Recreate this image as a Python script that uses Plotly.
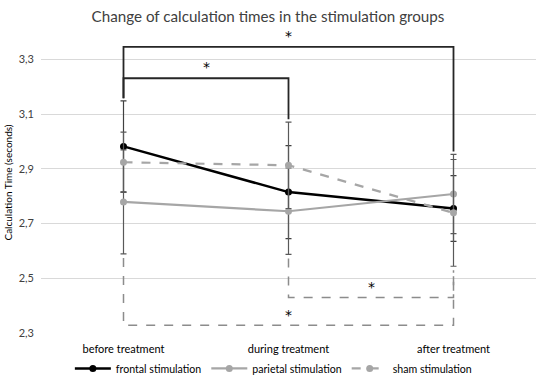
import plotly.graph_objects as go

categories = ["before treatment", "during treatment", "after treatment"]
y_ticks = [2.3, 2.5, 2.7, 2.9, 3.1, 3.3]

frontal = [2.982, 2.815, 2.755]
frontal_err = [0.166, 0.17, 0.12]
parietal = [2.779, 2.745, 2.808]
parietal_err = [0.19, 0.158, 0.145]
sham = [2.924, 2.913, 2.739]
sham_err = [0.11, 0.158, 0.195]

# significance brackets: (from index, to index, level)
solid_brackets = [(0, 2, 3.346), (0, 1, 3.231)]
dashed_brackets = [(0, 2, 2.328), (1, 2, 2.43)]

x = list(range(len(categories)))
FONT = "Lato"

fig = go.Figure()

def add_series(name, vals, err, color, width, dash, msize, ecolor):
    fig.add_trace(go.Scatter(
        x=x, y=vals, name=name, mode="lines+markers",
        line=dict(color=color, width=width, dash=dash),
        marker=dict(color=color, size=msize),
        error_y=dict(type="data", array=err, visible=True, color=ecolor,
                     thickness=1.2, width=3),
    ))

add_series("frontal stimulation", frontal, frontal_err, "#000000", 2.5, "solid", 7, "#404040")
add_series("parietal stimulation", parietal, parietal_err, "#a6a6a6", 2.2, "solid", 7, "#595959")
add_series("sham stimulation", sham, sham_err, "#a6a6a6", 2.2, "dash", 7, "#595959")

series = [(frontal, frontal_err), (parietal, parietal_err), (sham, sham_err)]
tops = [max(v[i] + e[i] for v, e in series) for i in x]
bottoms = [min(v[i] - e[i] for v, e in series) for i in x]

shapes = []
annotations = []
for a, b, lvl in solid_brackets:
    path = f"M {a} {tops[a] + 0.01} L {a} {lvl} L {b} {lvl} L {b} {tops[b] + 0.01}"
    shapes.append(dict(type="path", path=path, xref="x", yref="y",
                       line=dict(color="#262626", width=1.8)))
    annotations.append(dict(x=(a + b) / 2, y=lvl + 0.003, text="*", showarrow=False,
                            xref="x", yref="y", yanchor="bottom",
                            font=dict(family="DejaVu Sans", size=14, color="black")))
for a, b, lvl in dashed_brackets:
    path = f"M {a} {bottoms[a] - 0.015} L {a} {lvl} L {b} {lvl} L {b} {bottoms[b] - 0.015}"
    shapes.append(dict(type="path", path=path, xref="x", yref="y",
                       line=dict(color="#8c8c8c", width=1.5, dash="dash")))
    annotations.append(dict(x=(a + b) / 2, y=lvl + 0.003, text="*", showarrow=False,
                            xref="x", yref="y", yanchor="bottom",
                            font=dict(family="DejaVu Sans", size=14, color="black")))

fig.update_layout(
    width=536, height=379,
    separators=",.",
    paper_bgcolor="white", plot_bgcolor="white",
    margin=dict(l=41, r=0, t=32, b=46, autoexpand=False),
    title=dict(text="Change of calculation times in the stimulation groups",
               x=0.5, xanchor="center", y=0.955, yanchor="middle",
               font=dict(family=FONT, size=15.2, color="#404040")),
    font=dict(family=FONT, color="#404040"),
    showlegend=True,
    legend=dict(orientation="h", x=0.51, xanchor="center", xref="container",
                y=0.028, yanchor="middle", yref="container",
                bgcolor="rgba(0,0,0,0)",
                font=dict(family=FONT, size=10.6, color="#000"),
                itemwidth=36, tracegroupgap=0),
    shapes=shapes,
    annotations=annotations,
)
fig.update_xaxes(range=[-0.5, 2.5], tickvals=x, ticktext=categories,
                 showgrid=False, zeroline=False, showline=False, ticks="",
                 automargin=False, ticklabelstandoff=8,
                 tickfont=dict(family=FONT, size=11, color="#000"))
fig.update_yaxes(range=[2.3, 3.4], tickvals=y_ticks, tickformat=".1f",
                 showgrid=True, gridcolor="#d9d9d9", gridwidth=1,
                 zeroline=False, showline=False, ticks="", automargin=False,
                 ticklabelstandoff=6,
                 tickfont=dict(family=FONT, size=11, color="#404040"),
                 title=dict(text="Calculation Time (seconds)", standoff=4,
                            font=dict(family=FONT, size=10, color="#000")))

fig.write_html("out.html", config={"displayModeBar": False},
               post_script="document.body.style.margin='0';document.body.style.overflow='hidden';")
